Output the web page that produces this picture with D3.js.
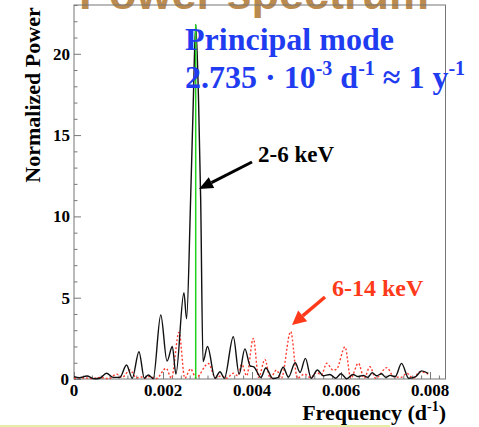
<!DOCTYPE html>
<html><head><meta charset="utf-8">
<script src="https://cdn.jsdelivr.net/npm/d3@7"></script>
<style>body{margin:0;background:#fff;}svg{display:block;}</style>
</head><body>
<script>
// ---- data ----
const freq2to6 = [0,0.00012,0.00029,0.00045,0.00058,0.00073,0.00088,0.00103,0.00118,0.00131,0.00146,0.00158,0.00167,0.00178,0.00195,0.00209,0.00221,0.00229,0.00247,0.00253,0.00262,0.00268,0.002735,0.0028,0.002847,0.0029,0.0030,0.00317,0.00328,0.00338,0.00358,0.00371,0.00384,0.00396,0.00404,0.0042,0.00431,0.00447,0.00458,0.0047,0.00482,0.00497,0.00508,0.0052,0.00533,0.00547,0.0056,0.00575,0.00588,0.0060,0.00613,0.00627,0.00638,0.0065,0.0066,0.0067,0.0068,0.00691,0.00701,0.0071,0.00722,0.00736,0.00752,0.00768,0.00781,0.00796];
const power2to6 = [0.15,0.08,0.18,0.02,0.05,0.35,0.1,0.1,0.86,0.05,1.68,0.05,0.25,0.02,3.94,1.1,2.0,0.3,5.3,3.7,11,17,21.8,17,11,1.07,2.0,0.05,0.45,0.05,2.6,0.3,1.85,0.8,0.75,0.1,0.68,0.03,0.08,0.72,0.12,1.0,0.4,1.27,0.05,0.55,0.2,0.28,0.05,0.32,0.02,0.28,0.15,0.22,0.1,0.38,0.2,0.32,0.1,0.22,0.15,0.96,0.05,0.15,0.5,0.35];
const freq6to14 = [0,0.0002,0.0004,0.0006,0.00078,0.00096,0.00108,0.00126,0.0014,0.00152,0.0016,0.0017,0.00185,0.00207,0.00219,0.00236,0.00249,0.00262,0.00274,0.00302,0.00318,0.00332,0.00343,0.00358,0.00368,0.00377,0.00388,0.00403,0.00415,0.00429,0.00441,0.00455,0.00466,0.00487,0.00502,0.00518,0.00532,0.00545,0.00556,0.00568,0.00582,0.0059,0.00609,0.00622,0.00639,0.00652,0.00665,0.00678,0.00703,0.00718,0.00735,0.00748,0.00762,0.00778,0.00796];
const power6to14 = [0.05,0.08,0.03,0.1,0.02,0.3,0.1,0.55,0.08,0.12,0.05,0.15,0.03,0.66,0.05,2.87,0.05,0.62,0.08,0.95,0.08,0.2,0.05,0.35,0.2,0.9,0.2,2.5,0.1,1.2,0.05,0.55,0.05,2.91,0.05,0.3,0.08,0.4,0.25,0.97,0.55,0.6,1.97,0.05,0.97,0.05,0.75,0.05,0.7,0.15,0.1,0.35,0.05,0.45,0.3];
const principalFreq = 0.002735;
const principalPower = 21.8;
const xTickValues = [0,0.002,0.004,0.006,0.008];
const xTickLabels = ["0","0.002","0.004","0.006","0.008"];
const yTickValues = [0,5,10,15,20];
const yTickLabels = ["0","5","10","15","20"];

// ---- layout ----
const W = 479, H = 427;
const svg = d3.select("body").append("svg").attr("width", W).attr("height", H);
const L = 74, R = 445.5, T = 5, B = 379;
const x = d3.scaleLinear().domain([0, 0.00835]).range([L, L + 0.00835 * 44500]);
const y = d3.scaleLinear().domain([0, 23]).range([B, T]);
const serif = "'Liberation Serif','Times New Roman',serif";
const axisCol = "#777";

// title (cut off at the top edge, as in the reference slide)
svg.append("text").attr("x", 254).attr("y", 9).attr("text-anchor", "middle")
  .attr("font-family", "'Liberation Sans',Arial,sans-serif").attr("font-weight", "bold")
  .attr("font-size", 45).attr("fill", "#bb8a4e").text("Power spectrum");

// frame
svg.append("rect").attr("x", L).attr("y", T).attr("width", R - L).attr("height", B - T)
  .attr("fill", "none").attr("stroke", axisCol).attr("stroke-width", 1);

// y ticks (inside)
const yAxis = d3.axisRight(y).tickValues(d3.range(0, 24, 1)).tickSize(0).tickFormat("");
const gy = svg.append("g").attr("transform", `translate(${L},0)`).call(yAxis);
gy.select(".domain").remove();
gy.selectAll(".tick line").attr("x2", d => d % 5 === 0 ? 7 : 3.5).attr("stroke", axisCol);
yTickValues.forEach((v, i) => {
  svg.append("text").attr("x", v === 0 ? 69 : 70).attr("y", y(v) + (v === 0 ? 6 : 6))
    .attr("text-anchor", "end").attr("font-family", serif).attr("font-weight", "bold")
    .attr("font-size", 17).attr("fill", "#000").text(yTickLabels[i]);
});

// x ticks (inside)
const xAxis = d3.axisTop(x).tickValues(d3.range(0, 0.00835, 0.0002)).tickSize(0).tickFormat("");
const gx = svg.append("g").attr("transform", `translate(0,${B})`).call(xAxis);
gx.select(".domain").remove();
gx.selectAll(".tick line").attr("y2", d => Math.abs(d / 0.002 - Math.round(d / 0.002)) < 1e-6 ? -7 : -3.5).attr("stroke", axisCol);
xTickValues.forEach((v, i) => {
  svg.append("text").attr("x", x(v)).attr("y", 396)
    .attr("text-anchor", "middle").attr("font-family", serif).attr("font-weight", "bold")
    .attr("font-size", 17).attr("fill", "#000").text(xTickLabels[i]);
});

// axis titles
svg.append("text").attr("transform", "translate(40,95) rotate(-90)").attr("text-anchor", "middle")
  .attr("font-family", serif).attr("font-weight", "bold").attr("font-size", 22).attr("fill", "#000")
  .text("Normalized Power");
const xt = svg.append("text").attr("x", 446).attr("y", 420).attr("text-anchor", "end")
  .attr("font-family", serif).attr("font-weight", "bold").attr("font-size", 22).attr("fill", "#000");
xt.append("tspan").text("Frequency (d");
xt.append("tspan").attr("dy", -9).attr("font-size", 14).text("-1");
xt.append("tspan").attr("dy", 9).text(")");

// curves
const line = d3.line().x(d => x(d[0])).y(d => y(d[1])).curve(d3.curveMonotoneX);
svg.append("path").datum(freq6to14.map((f, i) => [f, power6to14[i]]))
  .attr("d", line).attr("fill", "none").attr("stroke", "#ff3b2f").attr("stroke-width", 1.4)
  .attr("stroke-dasharray", "2,2");
svg.append("path").datum(freq2to6.map((f, i) => [f, power2to6[i]]))
  .attr("d", line).attr("fill", "none").attr("stroke", "#111").attr("stroke-width", 1.4);

// principal mode marker
svg.append("line").attr("x1", x(principalFreq)).attr("x2", x(principalFreq))
  .attr("y1", y(0)).attr("y2", y(principalPower)).attr("stroke", "#1ed21e").attr("stroke-width", 1.5);

// annotations
function arrow(x1, y1, x2, y2, col, w, hl, hw) {
  const a = Math.atan2(y2 - y1, x2 - x1);
  const bx = x2 - hl * Math.cos(a), by = y2 - hl * Math.sin(a);
  svg.append("line").attr("x1", x1).attr("y1", y1).attr("x2", bx).attr("y2", by)
    .attr("stroke", col).attr("stroke-width", w);
  const px = -Math.sin(a) * hw, py = Math.cos(a) * hw;
  svg.append("path").attr("d", `M${x2},${y2}L${bx + px},${by + py}L${bx - px},${by - py}Z`).attr("fill", col);
}
svg.append("text").attr("x", 258).attr("y", 162).attr("font-family", serif).attr("font-weight", "bold")
  .attr("font-size", 23).attr("fill", "#000").text("2-6 keV");
arrow(252, 162, 199, 189, "#000", 3, 14, 6);
svg.append("text").attr("x", 332).attr("y", 296).attr("font-family", serif).attr("font-weight", "bold")
  .attr("font-size", 24).attr("fill", "#ff3a1a").text("6-14 keV");
arrow(325, 297, 292, 325, "#ff3a1a", 3.5, 14, 7);

const blue = "#1f3cf0";
svg.append("text").attr("x", 185).attr("y", 50).attr("font-family", serif).attr("font-weight", "bold")
  .attr("font-size", 32).attr("fill", blue).text("Principal mode");
const t2 = svg.append("text").attr("x", 185).attr("y", 88).attr("font-family", serif).attr("font-weight", "bold")
  .attr("font-size", 32).attr("fill", blue);
t2.append("tspan").text("2.735 · 10");
t2.append("tspan").attr("dy", -13).attr("font-size", 20).text("-3");
t2.append("tspan").attr("dy", 13).text(" d");
t2.append("tspan").attr("dy", -13).attr("font-size", 20).text("-1");
t2.append("tspan").attr("dy", 13).text(" ≈ 1 y");
t2.append("tspan").attr("dy", -13).attr("font-size", 20).text("-1");

// slide decoration line at bottom
svg.append("line").attr("x1", 0).attr("x2", 390).attr("y1", 426).attr("y2", 426)
  .attr("stroke", "#e6eda6").attr("stroke-width", 2);
</script>
</body></html>
